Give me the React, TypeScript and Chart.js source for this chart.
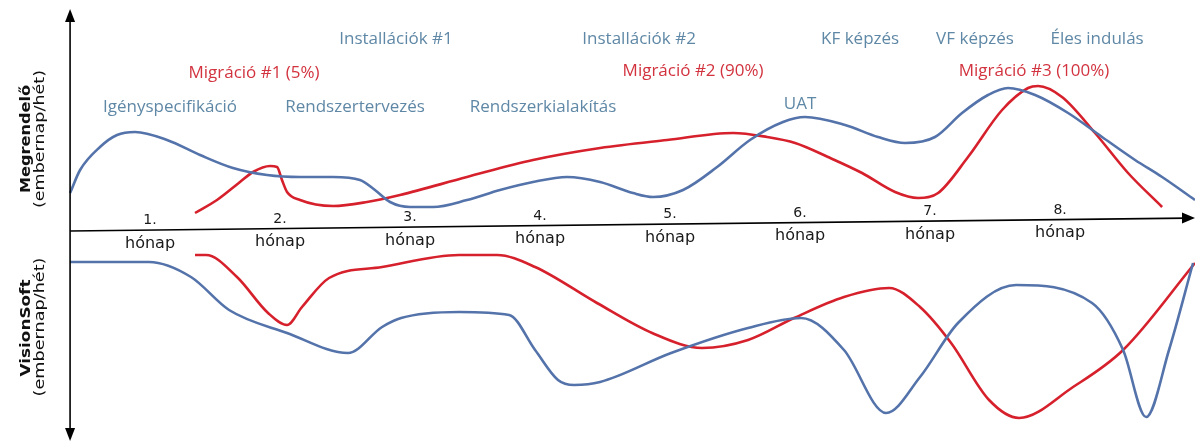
import { useEffect, useRef } from 'react';
import { Chart, registerables } from 'chart.js';

Chart.register(...registerables);

// ---- Data (x = project month, y = effort in embernap/hét, arbitrary units) ----
const months = ['1.', '2.', '3.', '4.', '5.', '6.', '7.', '8.'];
const monthWord = 'hónap';

// Megrendelő (upper panel, effort grows upward)
const megrendeloProjekt: [number, number][] = [
  [-0.115, 3.2], [-0.038, 5.5], [0.115, 7.8], [0.246, 9.0], [0.385, 9.3], [0.631, 8.5],
  [0.885, 7.0], [1.138, 5.7], [1.4, 5.0], [1.654, 4.8], [1.908, 4.8], [2.115, 4.5],
  [2.23, 3.5], [2.346, 2.3], [2.5, 1.8], [2.677, 1.8], [2.938, 2.5], [3.192, 3.5],
  [3.446, 4.3], [3.708, 4.8], [3.962, 4.3], [4.215, 3.2], [4.369, 2.8], [4.6, 3.5],
  [4.862, 5.8], [5.115, 8.5], [5.369, 10.3], [5.538, 10.8], [5.846, 10.0], [6.1, 8.8],
  [6.308, 8.2], [6.538, 8.8], [6.746, 11.2], [6.946, 13.0], [7.1, 13.7], [7.308, 13.0],
  [7.562, 11.2], [7.823, 8.8], [8.077, 6.5], [8.285, 4.8], [8.538, 2.5],
];
const megrendeloMigracio: [number, number][] = [
  [0.846, 1.2], [1.015, 2.5], [1.192, 4.3], [1.292, 5.3], [1.423, 5.9], [1.477, 5.8],
  [1.515, 4.5], [1.554, 3.3], [1.654, 2.5], [1.908, 1.9], [2.169, 2.3], [2.423, 3.0],
  [2.938, 4.8], [3.446, 6.5], [3.962, 7.7], [4.477, 8.5], [4.985, 9.2], [5.246, 8.8],
  [5.462, 8.2], [5.715, 6.8], [5.977, 5.2], [6.231, 3.3], [6.408, 2.7], [6.562, 3.2],
  [6.792, 6.8], [7.054, 11.5], [7.254, 13.7], [7.331, 13.9], [7.515, 12.8], [7.769, 9.2],
  [8.023, 5.2], [8.285, 1.8],
];

// VisionSoft (lower panel, effort grows downward)
const visionsoftProjekt: [number, number][] = [
  [-0.115, 3.7], [0.492, 3.7], [0.815, 5.2], [1.108, 8.5], [1.554, 10.8], [2.023, 12.8],
  [2.285, 10.2], [2.431, 9.3], [2.877, 8.7], [3.262, 9.0], [3.462, 12.5], [3.638, 15.5],
  [3.762, 16.0], [3.962, 15.7], [4.508, 12.8], [5.1, 10.3], [5.508, 9.3], [5.838, 12.5],
  [6.162, 18.8], [6.423, 15.2], [6.715, 9.8], [7.162, 6.0], [7.746, 7.8], [7.985, 12.5],
  [8.162, 19.2], [8.338, 12.5], [8.523, 3.8],
];
const visionsoftMigracio: [number, number][] = [
  [0.846, 3.0], [0.931, 3.0], [1.169, 5.2], [1.408, 8.8], [1.554, 10.0], [1.669, 8.2],
  [1.877, 5.3], [2.285, 4.2], [2.877, 3.0], [3.169, 3.0], [3.462, 4.2], [3.938, 7.8],
  [4.362, 10.8], [4.746, 12.3], [5.1, 11.5], [5.454, 9.3], [5.838, 7.2], [6.185, 6.3],
  [6.423, 8.2], [6.662, 11.8], [6.954, 17.5], [7.185, 19.3], [7.6, 16.2], [7.985, 12.5],
  [8.538, 3.8],
];

// Phase labels of the upper panel
const projektFazisok = ['Igényspecifikáció', 'Rendszertervezés', 'Installációk #1', 'Rendszerkialakítás',
  'Installációk #2', 'UAT', 'KF képzés', 'VF képzés', 'Éles indulás'];
const projektFazisHely: [number, number][] = [
  [0.654, 11.8], [2.077, 11.8], [2.392, 18.6], [3.523, 11.8], [4.262, 18.6], [5.5, 12.1],
  [5.962, 18.6], [6.846, 18.6], [7.785, 18.6],
];
const migracioFazisok = ['Migráció #1 (5%)', 'Migráció #2 (90%)', 'Migráció #3 (100%)'];
const migracioFazisHely: [number, number][] = [[1.3, 15.2], [4.677, 15.4], [7.3, 15.4]];

const BLUE_LINE = '#5473aa';
const RED_LINE = '#d6202c';
const BLUE_TEXT = '#5f88a6';
const RED_TEXT = '#d2333f';
const LABEL_FONT = '"Open Sans", sans-serif';
const AXIS_FONT = '"DejaVu Sans", sans-serif';

const diagramPlugin = {
  id: 'diagram',
  afterDatasetsDraw(chart: any) {
    const ctx: CanvasRenderingContext2D = chart.ctx;
    const xs = chart.scales.x;
    const yt = chart.scales.yTop;
    const px = (m: number) => xs.getPixelForValue(m);
    const py = (v: number) => yt.getPixelForValue(v);
    ctx.save();
    ctx.strokeStyle = '#000';
    ctx.fillStyle = '#000';
    ctx.lineWidth = 1.6;

    // vertical axis with arrows both ends
    const ax = px(-0.115);
    ctx.beginPath();
    ctx.moveTo(ax, 18);
    ctx.lineTo(ax, 432);
    ctx.stroke();
    ctx.beginPath();
    ctx.moveTo(ax, 9); ctx.lineTo(ax - 5, 22); ctx.lineTo(ax + 5, 22); ctx.closePath(); ctx.fill();
    ctx.beginPath();
    ctx.moveTo(ax, 441); ctx.lineTo(ax - 5, 428); ctx.lineTo(ax + 5, 428); ctx.closePath(); ctx.fill();

    // horizontal (time) axis, slightly tilted
    const x0 = ax, y0 = py(-0.6);
    const x1 = px(8.538), y1 = py(0.7);
    ctx.beginPath();
    ctx.moveTo(x0, y0);
    ctx.lineTo(x1 - 8, y1 + 0.1);
    ctx.stroke();
    ctx.beginPath();
    ctx.moveTo(x1, y1); ctx.lineTo(x1 - 13, y1 - 5.5); ctx.lineTo(x1 - 13, y1 + 5.5); ctx.closePath(); ctx.fill();
    const axisY = (x: number) => y0 + (y1 - y0) * (x - x0) / (x1 - x0);

    // month labels
    ctx.textAlign = 'center';
    ctx.textBaseline = 'middle';
    ctx.fillStyle = '#1a1a1a';
    months.forEach((lab, i) => {
      const x = px(i + 0.5);
      const y = axisY(x);
      ctx.font = `14px ${AXIS_FONT}`;
      ctx.fillText(lab, x, y - 9.5);
      ctx.font = `16px ${AXIS_FONT}`;
      ctx.fillText(monthWord, x, y + 13.5);
    });

    // phase labels
    ctx.font = `17px ${LABEL_FONT}`;
    ctx.fillStyle = BLUE_TEXT;
    projektFazisok.forEach((t, i) => {
      const [m, v] = projektFazisHely[i];
      ctx.fillText(t, px(m), py(v));
    });
    ctx.fillStyle = RED_TEXT;
    migracioFazisok.forEach((t, i) => {
      const [m, v] = migracioFazisHely[i];
      ctx.fillText(t, px(m), py(v));
    });

    // y axis titles (rotated, stretched along their length)
    const vTitle = (text: string, x: number, y: number, bold: boolean, size: number, length: number) => {
      ctx.save();
      ctx.font = `${bold ? 'bold ' : ''}${size}px ${AXIS_FONT}`;
      const w = ctx.measureText(text).width;
      ctx.translate(x, y);
      ctx.rotate(-Math.PI / 2);
      ctx.scale(length / w, 1);
      ctx.fillStyle = '#111';
      ctx.fillText(text, 0, 0);
      ctx.restore();
    };
    vTitle('Megrendelő', 26.5, 139, true, 14, 108);
    vTitle('(embernap/hét)', 40.5, 139, false, 13.5, 138);
    vTitle('VisionSoft', 26.5, 328, true, 14, 97);
    vTitle('(embernap/hét)', 40.5, 327, false, 13.5, 139);
    ctx.restore();
  },
};

const toPts = (arr: [number, number][]) => arr.map(([x, y]) => ({ x, y }));

export default function App() {
  const ref = useRef<HTMLCanvasElement>(null);
  useEffect(() => {
    if (!ref.current) return;
    const common = {
      pointRadius: 0,
      borderWidth: 2.6,
      cubicInterpolationMode: 'monotone' as const,
      fill: false,
    };
    const chart = new Chart(ref.current, {
      type: 'line',
      data: {
        datasets: [
          { ...common, label: 'Megrendelő projekt', data: toPts(megrendeloProjekt), borderColor: BLUE_LINE, yAxisID: 'yTop' },
          { ...common, label: 'Megrendelő migráció', data: toPts(megrendeloMigracio), borderColor: RED_LINE, yAxisID: 'yTop' },
          { ...common, label: 'VisionSoft projekt', data: toPts(visionsoftProjekt), borderColor: BLUE_LINE, yAxisID: 'yBot' },
          { ...common, label: 'VisionSoft migráció', data: toPts(visionsoftMigracio), borderColor: RED_LINE, yAxisID: 'yBot' },
        ],
      },
      options: {
        responsive: false,
        animation: false,
        layout: { padding: 0 },
        plugins: { legend: { display: false }, tooltip: { enabled: false } },
        scales: {
          x: { type: 'linear', display: false, min: -0.654, max: 8.538 },
          yTop: { type: 'linear', display: false, min: -22.1, max: 22.5 },
          yBot: { type: 'linear', display: false, reverse: true, min: -22.5, max: 22.1 },
        },
      },
      plugins: [diagramPlugin],
    });
    return () => chart.destroy();
  }, []);
  return (
    <div style={{ position: 'fixed', left: 0, top: 0, width: 1195, height: 446, background: '#fff' }}>
      <canvas ref={ref} width={1195} height={446} />
    </div>
  );
}
